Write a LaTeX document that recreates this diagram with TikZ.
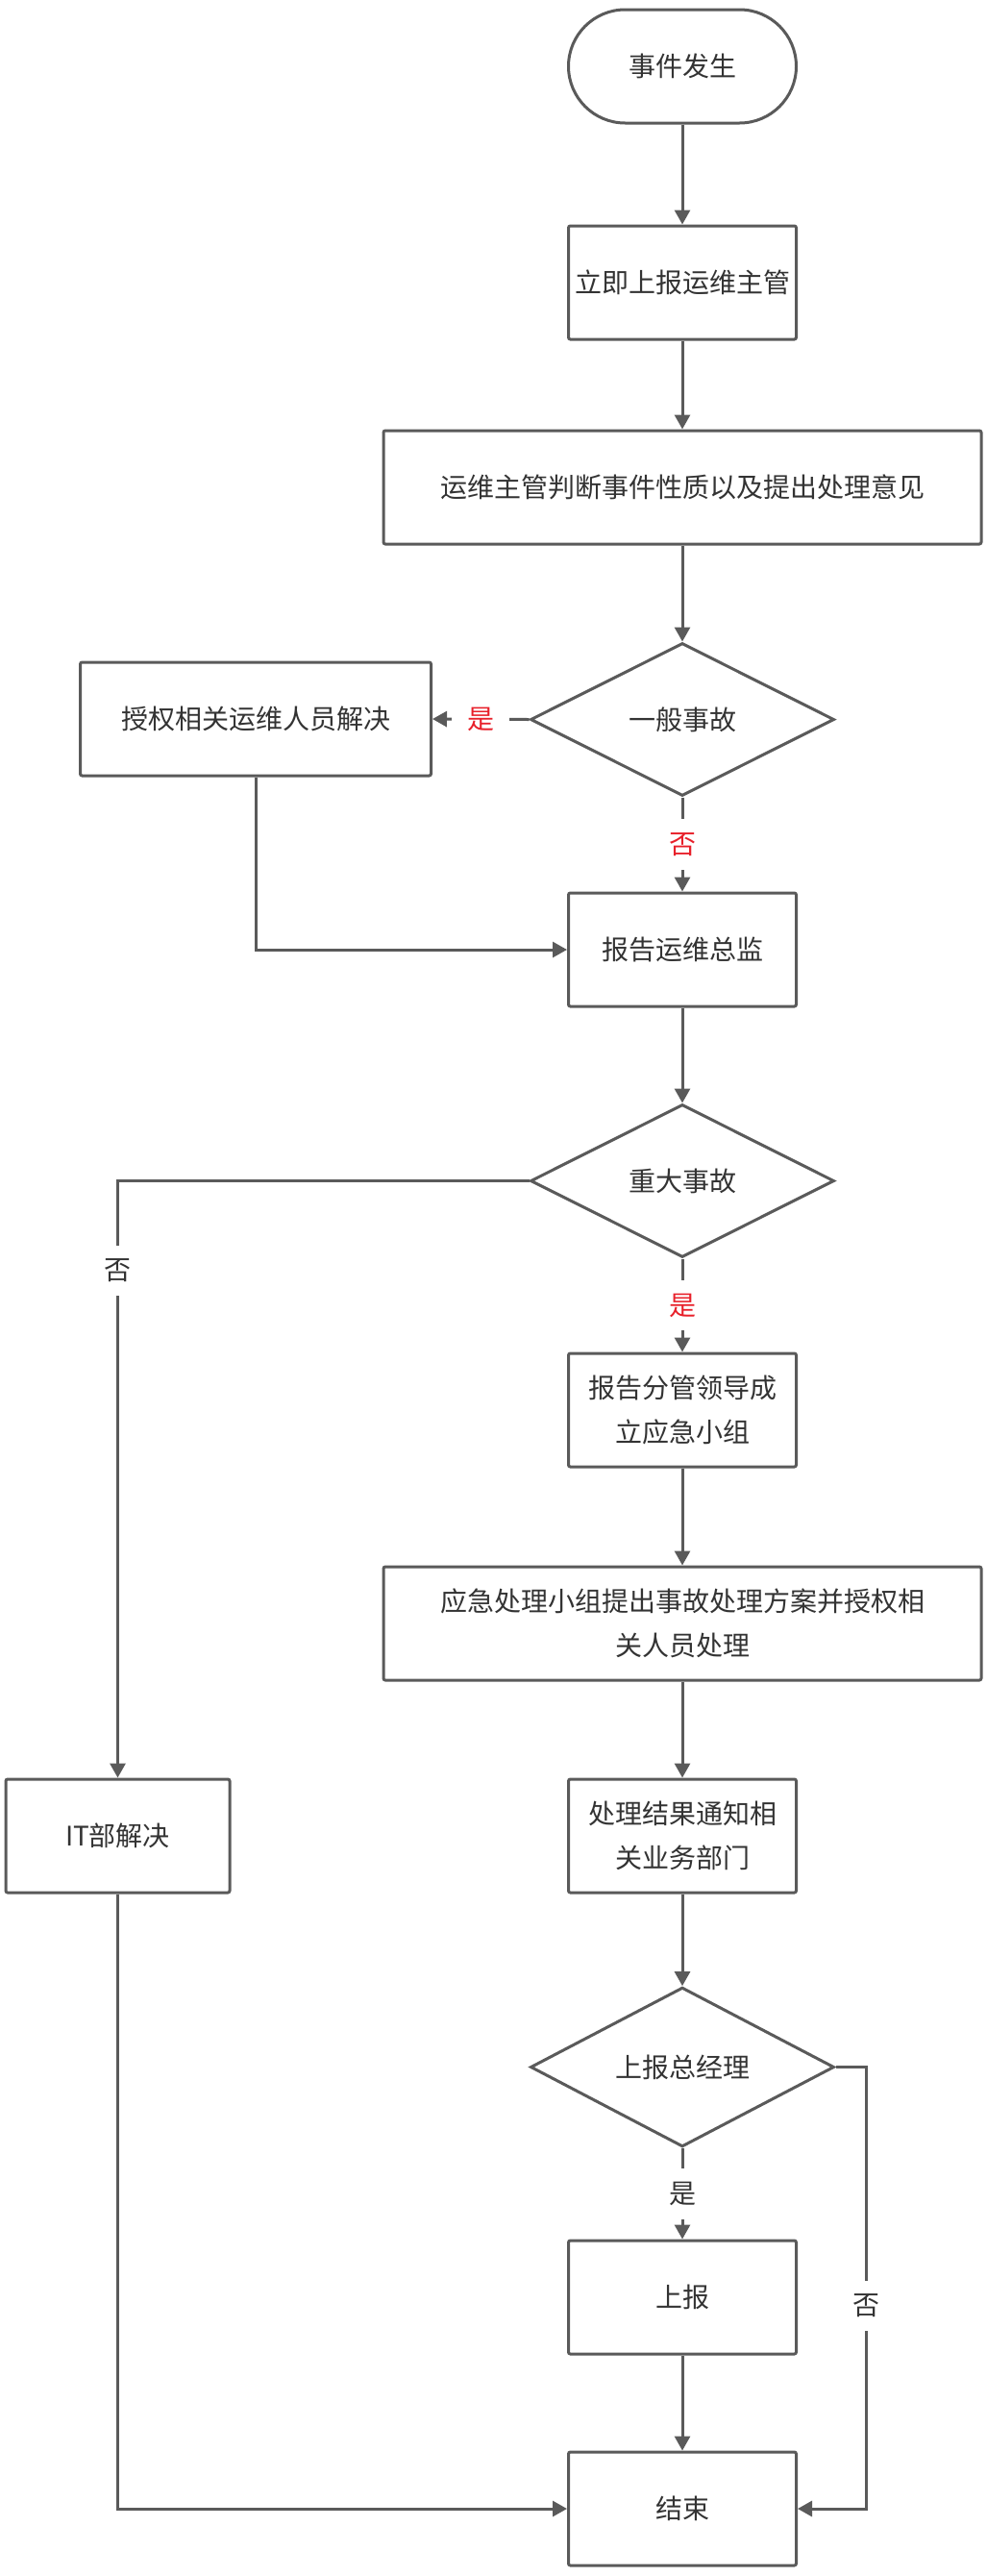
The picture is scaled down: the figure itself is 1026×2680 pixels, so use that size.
\documentclass[tikz,border=0pt]{standalone}
\usepackage{fontspec}
\setmainfont{Noto Sans CJK SC}
\usetikzlibrary{shapes.geometric,arrows.meta}
\definecolor{ln}{HTML}{5A5A5A}
\definecolor{tx}{HTML}{333333}
\definecolor{rd}{HTML}{E8202A}
\begin{document}
\begin{tikzpicture}[x=1pt,y=-1pt,
  base/.style={draw=ln, line width=3pt, fill=white, text=tx, font=\fontsize{28}{46}\selectfont, align=center, inner sep=0pt},
  box/.style={base, rectangle, rounded corners=2pt, minimum width=#1, minimum height=118pt},
  box/.default=237pt,
  term/.style={base, rectangle, rounded corners=59pt, minimum width=237pt, minimum height=118pt},
  dec/.style={base, diamond, minimum width=316pt, minimum height=159pt},
  arr/.style={draw=ln, line width=3pt, -{Triangle[length=15pt,width=16pt]}},
  ln/.style={draw=ln, line width=3pt},
  lbl/.style={fill=white, font=\fontsize{28}{34}\selectfont, inner xsep=16pt, inner ysep=14pt},
  rlbl/.style={lbl, text=rd},
  klbl/.style={lbl, text=tx}
]
\useasboundingbox[fill=white] (0,0) rectangle (1026,2680);

\node[term] (start) at (710,69) {事件发生};
\node[box] (b1) at (710,294) {立即上报运维主管};
\node[box=622pt] (b2) at (710,507) {运维主管判断事件性质以及提出处理意见};
\node[dec] (d1) at (710,748.5) {一般事故};
\node[box=365pt] (auth) at (266,748) {授权相关运维人员解决};
\node[box] (zj) at (710,988) {报告运维总监};
\node[dec] (d2) at (710,1228.5) {重大事故};
\node[box] (lead) at (710,1467) {报告分管领导成\\立应急小组};
\node[box=622pt] (plan) at (710,1689) {应急处理小组提出事故处理方案并授权相\\关人员处理};
\node[box] (notify) at (710,1910) {处理结果通知相\\关业务部门};
\node[box=233pt] (it) at (122.5,1910) {IT部解决};
\node[dec] (d3) at (710,2150.5) {上报总经理};
\node[box] (up) at (710,2390) {上报};
\node[box] (end) at (710,2610) {结束};

\draw[arr] (start) -- (b1);
\draw[arr] (b1) -- (b2);
\draw[arr] (b2) -- (d1);
\draw[arr] (d1.west) -- node[rlbl] (l1) {是} (auth.east);
\draw[arr] (d1.south) -- node[rlbl] (l2) {否} (zj.north);
\draw[arr] (auth.south) |- (zj.west);
\draw[arr] (zj) -- (d2);
\draw[arr] (d2.south) -- node[rlbl] (l3) {是} (lead.north);
\draw[arr] (d2.west) -| (it.north);
\node[klbl] (l4) at (122.5,1322) {否};
\draw[arr] (lead) -- (plan);
\draw[arr] (plan) -- (notify);
\draw[arr] (notify) -- (d3);
\draw[arr] (d3.south) -- node[klbl] (l5) {是} (up.north);
\draw[arr] (up) -- (end);
\draw[arr] (it.south) |- (end.west);
\coordinate (c3) at (901,2150.5);
\draw[arr] (d3.east) -- (c3) |- (end.east);
\node[klbl] (l6) at (901,2399) {否};
\end{tikzpicture}
\end{document}
